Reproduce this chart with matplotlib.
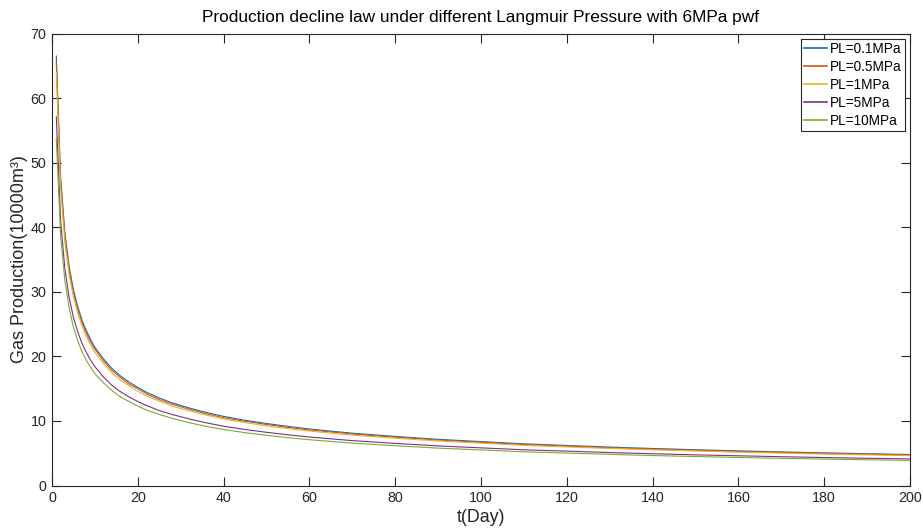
import matplotlib
matplotlib.use("Agg")
import matplotlib.pyplot as plt

plt.rcParams['font.family'] = ['Liberation Sans', 'DejaVu Sans']

days = [1, 2, 3, 4, 5, 6, 7, 8, 9, 10,
        12, 14, 16, 18, 20, 22, 25, 28, 32, 36, 40, 45, 50, 55, 60,
        70, 80, 90, 100, 110, 120, 130, 140, 150, 160, 170, 180, 190, 200]

pl_01 = [66.5, 47.9, 39.1, 33.9, 30.3, 27.7, 25.6, 24.0, 22.6, 21.4,
         19.6, 18.1, 16.95, 16.0, 15.2, 14.45, 13.55, 12.8, 12.0, 11.3, 10.7, 10.1, 9.6, 9.15, 8.75,
         8.1, 7.6, 7.15, 6.8, 6.45, 6.2, 5.95, 5.73, 5.54, 5.36, 5.2, 5.05, 4.92, 4.8]
pl_05 = [65.5, 47.1, 38.5, 33.4, 29.8, 27.3, 25.2, 23.6, 22.2, 21.1,
         19.3, 17.8, 16.7, 15.7, 15.0, 14.2, 13.3, 12.6, 11.8, 11.1, 10.5, 9.94, 9.45, 9.0, 8.61,
         7.97, 7.48, 7.04, 6.69, 6.35, 6.1, 5.85, 5.64, 5.45, 5.27, 5.12, 4.97, 4.84, 4.72]
pl_1 = [64.0, 46.1, 37.7, 32.6, 29.2, 26.7, 24.7, 23.1, 21.8, 20.6,
        18.9, 17.4, 16.3, 15.4, 14.6, 13.9, 13.05, 12.3, 11.55, 10.9, 10.3, 9.73, 9.24, 8.81, 8.43,
        7.8, 7.32, 6.89, 6.55, 6.21, 5.97, 5.73, 5.52, 5.34, 5.16, 5.01, 4.86, 4.74, 4.62]
pl_5 = [57.1, 41.1, 33.5, 29.1, 26.0, 23.8, 22.0, 20.6, 19.4, 18.4,
        16.8, 15.5, 14.5, 13.7, 13.0, 12.4, 11.6, 11.0, 10.3, 9.7, 9.18, 8.67, 8.24, 7.85, 7.51,
        6.95, 6.52, 6.13, 5.83, 5.53, 5.32, 5.1, 4.92, 4.75, 4.6, 4.46, 4.33, 4.22, 4.12]
pl_10 = [53.8, 38.8, 31.7, 27.5, 24.5, 22.4, 20.7, 19.4, 18.3, 17.3,
         15.9, 14.7, 13.7, 13.0, 12.3, 11.7, 11.0, 10.4, 9.72, 9.15, 8.67, 8.18, 7.78, 7.41, 7.09,
         6.56, 6.16, 5.79, 5.51, 5.22, 5.02, 4.82, 4.64, 4.49, 4.34, 4.21, 4.09, 3.99, 3.89]

series = [pl_01, pl_05, pl_1, pl_5, pl_10]
labels = ['PL=0.1MPa', 'PL=0.5MPa', 'PL=1MPa', 'PL=5MPa', 'PL=10MPa']
colors = ['#0072BD', '#D95319', '#EDB120', '#7E2F8E', '#77AC30']

fig = plt.figure(figsize=(9.23, 5.31), dpi=100)
ax = fig.add_axes([52/923, 45.5/531, 858/923, 452/531])

for vals, lab, c in zip(series, labels, colors):
    ax.plot(days[:len(vals)], vals, color=c, lw=0.8, label=lab)

ax.set_xlim(0, 200)
ax.set_ylim(0, 70)
ax.set_xticks(range(0, 201, 20))
ax.set_yticks(range(0, 71, 10))

axc = '#262626'
for s in ax.spines.values():
    s.set_color(axc)
    s.set_linewidth(0.8)
ax.tick_params(direction='in', length=6.5, width=0.8, colors=axc,
               top=True, right=True, labelsize=10.3, pad=4)

ax.set_title('Production decline law under different Langmuir Pressure with 6MPa pwf',
             fontsize=12.4, color='black', pad=8)
ax.set_xlabel('t(Day)', fontsize=12.8, color=axc, labelpad=3)
ax.set_ylabel('Gas Production(10000m³)', fontsize=13, color=axc, labelpad=2)

leg = ax.legend(loc='upper right', fontsize=9.8, frameon=True, fancybox=False,
                edgecolor=axc, framealpha=1, handlelength=1.7, handletextpad=0.25,
                borderpad=0.2, labelspacing=0.3, borderaxespad=0.4)
leg.get_frame().set_linewidth(0.8)
for ln in leg.get_lines():
    ln.set_linewidth(1.2)

fig.savefig('out.png', dpi=100)
